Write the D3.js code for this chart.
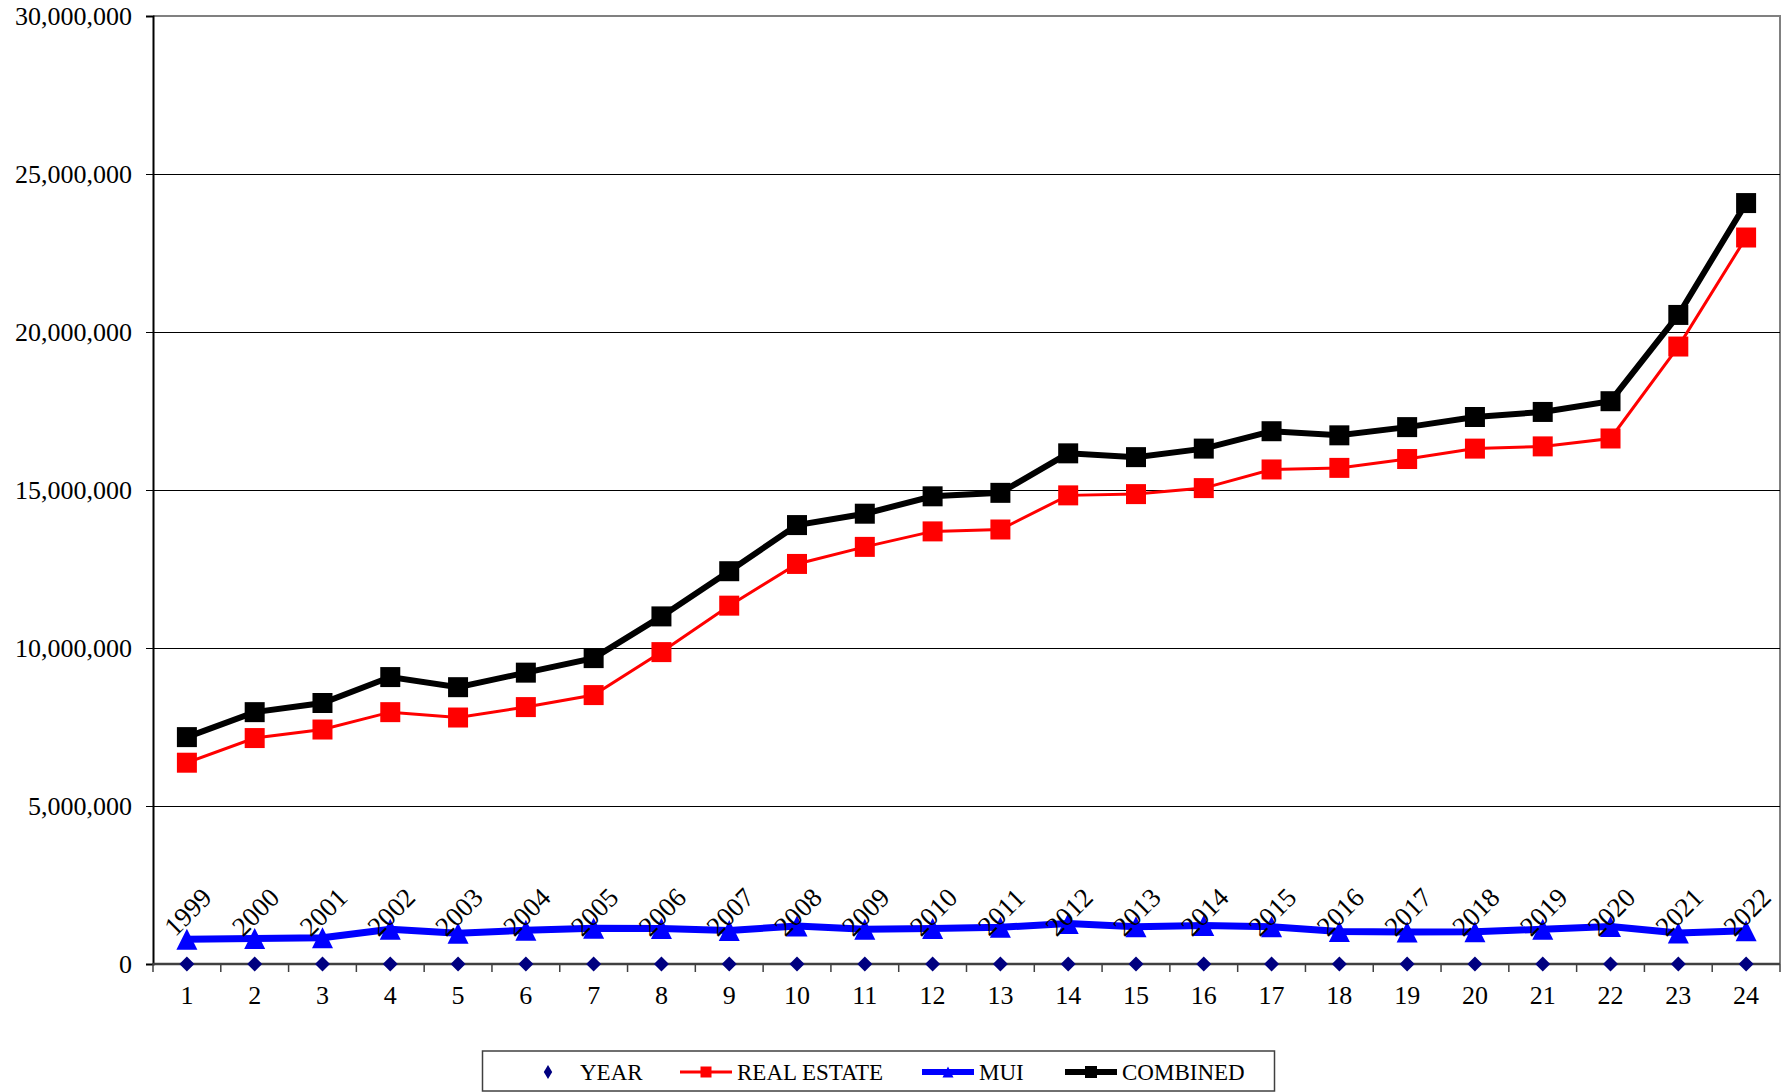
<!DOCTYPE html>
<html>
<head>
<meta charset="utf-8">
<script src="https://cdn.jsdelivr.net/npm/d3@7"></script>
<style>
  html, body { margin: 0; padding: 0; background: #fff; }
  svg { display: block; }
  text { font-family: "Liberation Serif", "Times New Roman", serif; fill: #000; }
</style>
</head>
<body>
<svg id="chart" width="1791" height="1092"></svg>
<script>
// Period index along the x axis and the year each index stands for
const periods = d3.range(1, 25);
const years = ["1999","2000","2001","2002","2003","2004","2005","2006","2007","2008","2009","2010",
               "2011","2012","2013","2014","2015","2016","2017","2018","2019","2020","2021","2022"];

// YEAR series sits on the baseline; it only carries the year labels
const yearSeries = periods.map(() => 0);

const realEstate = [6.37e6, 7.15e6, 7.42e6, 7.97e6, 7.80e6, 8.13e6, 8.51e6, 9.87e6, 11.34e6, 12.66e6,
                    13.20e6, 13.69e6, 13.75e6, 14.83e6, 14.87e6, 15.06e6, 15.65e6, 15.70e6, 15.98e6,
                    16.31e6, 16.38e6, 16.63e6, 19.54e6, 22.99e6];

const mui = [0.78e6, 0.81e6, 0.83e6, 1.10e6, 0.97e6, 1.07e6, 1.13e6, 1.12e6, 1.06e6, 1.20e6,
             1.10e6, 1.12e6, 1.16e6, 1.28e6, 1.18e6, 1.22e6, 1.18e6, 1.03e6, 1.01e6, 1.02e6,
             1.10e6, 1.19e6, 0.98e6, 1.05e6];

const combined = [7.18e6, 7.97e6, 8.26e6, 9.08e6, 8.76e6, 9.22e6, 9.68e6, 11.00e6, 12.43e6, 13.89e6,
                  14.25e6, 14.80e6, 14.91e6, 16.16e6, 16.04e6, 16.31e6, 16.86e6, 16.73e6, 16.99e6,
                  17.31e6, 17.47e6, 17.81e6, 20.54e6, 24.08e6];

const yTicks = [0, 5e6, 10e6, 15e6, 20e6, 25e6, 30e6];
const legendNames = ["YEAR", "REAL ESTATE", "MUI", "COMBINED"];

const svg = d3.select("#chart");
const plot = { left: 153, right: 1780, top: 16, bottom: 964 };

const x = d3.scaleBand().domain(periods).range([plot.left, plot.right]);
const cx = d => x(d) + x.bandwidth() / 2;
const y = d3.scaleLinear().domain([0, 30e6]).range([plot.bottom, plot.top]);

// Marker shapes: size is the marker's full width in pixels
const squareType = { draw(ctx, s) { const r = s / 2; ctx.rect(-r, -r, s, s); } };
const diamondType = { draw(ctx, s) { const r = s / 2; ctx.moveTo(0, -r); ctx.lineTo(r, 0); ctx.lineTo(0, r); ctx.lineTo(-r, 0); ctx.closePath(); } };
const triangleType = { draw(ctx, s) { const r = s / 2; ctx.moveTo(0, -r); ctx.lineTo(r, r); ctx.lineTo(-r, r); ctx.closePath(); } };
const tallDiamondType = { draw(ctx, s) { const r = s / 2; ctx.moveTo(0, -r); ctx.lineTo(r * 0.6, 0); ctx.lineTo(0, r); ctx.lineTo(-r * 0.6, 0); ctx.closePath(); } };

// Plot area frame (top and right edges)
svg.append("path")
  .attr("d", `M${plot.left},${plot.top}H${plot.right}V${plot.bottom}`)
  .attr("fill", "none").attr("stroke", "#808080").attr("stroke-width", 2);

// Horizontal gridlines
svg.append("g").selectAll("line")
  .data(yTicks.filter(t => t > 0 && t < 30e6))
  .join("line")
  .attr("x1", plot.left).attr("x2", plot.right)
  .attr("y1", d => Math.round(y(d)) + 0.5).attr("y2", d => Math.round(y(d)) + 0.5)
  .attr("stroke", "#000").attr("stroke-width", 1);

// Y axis
const yAxis = svg.append("g")
  .attr("transform", `translate(${plot.left},0)`)
  .call(d3.axisLeft(y).tickValues(yTicks).tickFormat(d3.format(",")).tickSize(7).tickPadding(14));
yAxis.select(".domain").attr("stroke", "#000").attr("stroke-width", 2);
yAxis.selectAll(".tick line").attr("stroke", "#000");
yAxis.selectAll("text").style("font-size", "26px").attr("fill", "#000")
  .style("font-family", "'Liberation Serif', serif");

// X axis: tick marks on band edges, labels on band centres
const xAxis = svg.append("g").attr("transform", `translate(0,${plot.bottom})`);
xAxis.append("line")
  .attr("x1", plot.left).attr("x2", plot.right)
  .attr("stroke", "#404040").attr("stroke-width", 2.5);
xAxis.selectAll("line.tk")
  .data(periods.concat([25]))
  .join("line").attr("class", "tk")
  .attr("x1", d => d === 25 ? plot.right : x(d))
  .attr("x2", d => d === 25 ? plot.right : x(d))
  .attr("y1", 0).attr("y2", 8)
  .attr("stroke", "#404040").attr("stroke-width", 1.5);
xAxis.selectAll("text")
  .data(periods)
  .join("text")
  .attr("x", d => cx(d)).attr("y", 40)
  .attr("text-anchor", "middle")
  .style("font-size", "26px")
  .text(d => d);

// Series lines
const line = vals => d3.line().x((d, i) => cx(periods[i])).y(d => y(d))(vals);

svg.append("path").attr("d", line(realEstate))
  .attr("fill", "none").attr("stroke", "#ff0000").attr("stroke-width", 3);
svg.append("path").attr("d", line(mui))
  .attr("fill", "none").attr("stroke", "#0000ff").attr("stroke-width", 7).attr("stroke-linejoin", "round");
svg.append("path").attr("d", line(combined))
  .attr("fill", "none").attr("stroke", "#000").attr("stroke-width", 6);

// Markers
svg.append("g").selectAll("path").data(yearSeries).join("path")
  .attr("d", d3.symbol().type(diamondType).size(15))
  .attr("transform", (d, i) => `translate(${cx(periods[i])},${y(d)})`)
  .attr("fill", "#000080");
svg.append("g").selectAll("path").data(realEstate).join("path")
  .attr("d", d3.symbol().type(squareType).size(20))
  .attr("transform", (d, i) => `translate(${cx(periods[i])},${y(d)})`)
  .attr("fill", "#ff0000");
svg.append("g").selectAll("path").data(mui).join("path")
  .attr("d", d3.symbol().type(triangleType).size(21))
  .attr("transform", (d, i) => `translate(${cx(periods[i])},${y(d)})`)
  .attr("fill", "#0000ff");
svg.append("g").selectAll("path").data(combined).join("path")
  .attr("d", d3.symbol().type(squareType).size(20))
  .attr("transform", (d, i) => `translate(${cx(periods[i])},${y(d)})`)
  .attr("fill", "#000");

// Year labels attached to the YEAR series
svg.append("g").selectAll("text").data(yearSeries).join("text")
  .attr("transform", (d, i) => `translate(${cx(periods[i]) + 1},${y(d) - 52}) rotate(-45)`)
  .attr("text-anchor", "middle")
  .attr("dominant-baseline", "central")
  .style("font-size", "27px")
  .text((d, i) => years[i]);

// Legend
const lg = svg.append("g");
lg.append("rect")
  .attr("x", 482.5).attr("y", 1051).attr("width", 792).attr("height", 40)
  .attr("fill", "#fff").attr("stroke", "#404040").attr("stroke-width", 1.5);
const ly = 1072;
const legendItems = [
  { name: legendNames[0], x: 548, color: "#000080", sym: tallDiamondType, size: 14, lw: 0 },
  { name: legendNames[1], x: 706, color: "#ff0000", sym: squareType, size: 11, lw: 3 },
  { name: legendNames[2], x: 948, color: "#0000ff", sym: triangleType, size: 11, lw: 6 },
  { name: legendNames[3], x: 1091, color: "#000", sym: squareType, size: 12, lw: 6 }
];
legendItems.forEach(it => {
  if (it.lw) {
    lg.append("line").attr("x1", it.x - 26).attr("x2", it.x + 26)
      .attr("y1", ly).attr("y2", ly)
      .attr("stroke", it.color).attr("stroke-width", it.lw);
  }
  lg.append("path").attr("d", d3.symbol().type(it.sym).size(it.size))
    .attr("transform", `translate(${it.x},${ly})`)
    .attr("fill", it.color);
  lg.append("text")
    .attr("x", it.lw ? it.x + 31 : it.x + 32).attr("y", ly)
    .attr("dominant-baseline", "central")
    .style("font-size", "23px")
    .text(it.name);
});
</script>
</body>
</html>
